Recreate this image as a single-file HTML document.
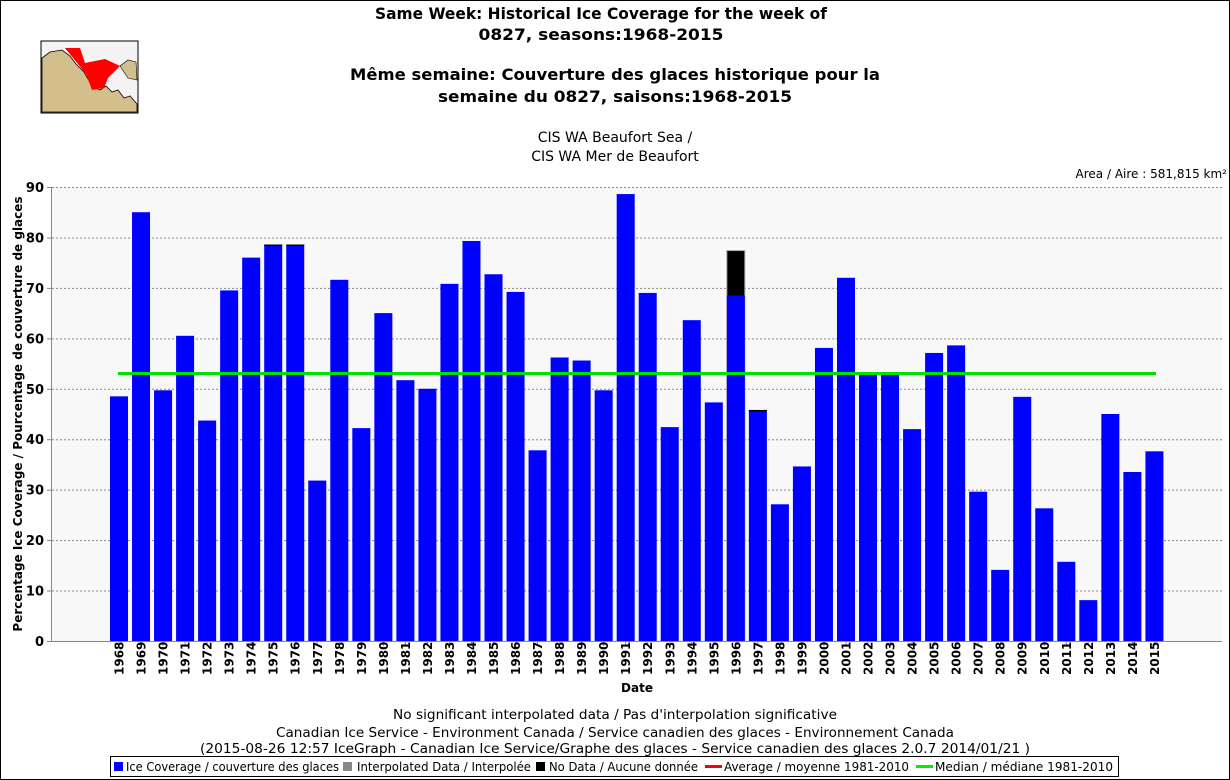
<!DOCTYPE html>
<html><head><meta charset="utf-8"><style>
html,body{margin:0;padding:0;background:#fff}
svg{display:block}
text{font-family:"DejaVu Sans","Liberation Sans",sans-serif}
</style></head><body>
<svg id="s" width="1230" height="780" xmlns="http://www.w3.org/2000/svg">
<rect x="0.5" y="0.5" width="1229" height="779" fill="#fff" stroke="#000"/>
<g font-weight="bold" font-size="16" text-anchor="middle" fill="#000">
<text x="601" y="19" textLength="452" lengthAdjust="spacingAndGlyphs">Same Week: Historical Ice Coverage for the week of</text>
<text x="601" y="40" textLength="245" lengthAdjust="spacingAndGlyphs">0827, seasons:1968-2015</text>
<text x="615" y="80" textLength="530" lengthAdjust="spacingAndGlyphs">Même semaine: Couverture des glaces historique pour la</text>
<text x="615" y="102" textLength="354" lengthAdjust="spacingAndGlyphs">semaine du 0827, saisons:1968-2015</text>
</g>
<g font-size="14" text-anchor="middle" fill="#000">
<text x="615" y="142">CIS WA Beaufort Sea /</text>
<text x="615" y="161">CIS WA Mer de Beaufort</text>
</g>
<text x="1227" y="178" font-size="12" text-anchor="end">Area / Aire : 581,815 km²</text>
<g>
<rect x="41" y="41" width="97" height="72" fill="#f5f3f3" stroke="#000"/>
<path d="M42,58 L50,52 L62,50 L70,56 L76,64 L84,72 L92,86 L100,90 L106,86 L112,92 L118,90 L124,98 L130,96 L137,104 L137,112 L42,112 Z" fill="#d4be8b" stroke="#000" stroke-width="0.8"/>
<path d="M65,48 L80,48 L85,63 L105,59 L120,66 L108,78 L104,88 L92,90 L86,74 Z" fill="#f00"/>
<path d="M120,66 L128,60 L136,62 L137,80 L128,78 Z" fill="#d4be8b" stroke="#000" stroke-width="0.6"/>
</g>
<rect x="52" y="187" width="1170" height="454" fill="#f8f8f8"/>
<g id="grid" stroke="#888" stroke-dasharray="2,2" stroke-width="1"></g>
<g id="bars"></g>
<line x1="118" y1="373.5" x2="1156" y2="373.5" stroke="#00e000" stroke-width="3"/>
<line x1="51.5" y1="187" x2="51.5" y2="641" stroke="#888"/>
<line x1="51" y1="641.5" x2="1222" y2="641.5" stroke="#888"/>
<g id="yl" font-size="13" font-weight="bold" text-anchor="end"></g>
<g id="xl" font-size="12" font-weight="bold"></g>
<text transform="translate(22,414) rotate(-90)" font-size="12" font-weight="bold" text-anchor="middle">Percentage Ice Coverage / Pourcentage de couverture de glaces</text>
<text x="637" y="692" font-size="12" font-weight="bold" text-anchor="middle">Date</text>
<g font-size="13" text-anchor="middle">
<text x="615" y="719" textLength="444" lengthAdjust="spacingAndGlyphs">No significant interpolated data / Pas d'interpolation significative</text>
<text x="615" y="737" textLength="678" lengthAdjust="spacingAndGlyphs">Canadian Ice Service - Environment Canada / Service canadien des glaces - Environnement Canada</text>
<text x="615" y="753" textLength="830" lengthAdjust="spacingAndGlyphs">(2015-08-26 12:57 IceGraph - Canadian Ice Service/Graphe des glaces - Service canadien des glaces 2.0.7 2014/01/21 )</text>
</g>
<rect x="110.5" y="756.5" width="1008" height="20" fill="#fff" stroke="#000"/>
<g font-size="12" fill="#000">
<rect x="114" y="762" width="9" height="9" fill="#00f"/><text x="126" y="771" textLength="213" lengthAdjust="spacingAndGlyphs">Ice Coverage / couverture des glaces</text>
<rect x="343" y="762" width="9" height="9" fill="#888"/><text x="357" y="771" textLength="174" lengthAdjust="spacingAndGlyphs">Interpolated Data / Interpolée</text>
<rect x="536" y="762" width="9" height="9" fill="#000"/><text x="549" y="771" textLength="149" lengthAdjust="spacingAndGlyphs">No Data / Aucune donnée</text>
<line x1="705" y1="766.5" x2="722" y2="766.5" stroke="#f00" stroke-width="3"/><text x="724" y="771" textLength="185" lengthAdjust="spacingAndGlyphs">Average / moyenne 1981-2010</text>
<line x1="916" y1="766.5" x2="933" y2="766.5" stroke="#0e0" stroke-width="3"/><text x="935" y="771" textLength="178" lengthAdjust="spacingAndGlyphs">Median / médiane 1981-2010</text>
</g>
</svg>
<script>
var v=[48.5,85,49.7,60.5,43.7,69.5,76,78.6,78.6,31.8,71.6,42.2,65,51.7,50,70.8,79.3,72.7,69.2,37.8,56.2,55.6,49.7,88.6,69,42.4,63.6,47.3,68.5,45.8,27.1,34.6,58.1,72,52.9,53.3,42,57.1,58.6,29.6,14.1,48.4,26.3,15.7,8.1,45,33.5,37.6];
var ns="http://www.w3.org/2000/svg";
function el(p,t,a,txt){var e=document.createElementNS(ns,t);for(var k in a)e.setAttribute(k,a[k]);if(txt!=null)e.textContent=txt;document.getElementById(p).appendChild(e);return e;}
function Y(x){return 641-x*454/90;}
for(var i=0;i<=9;i++){var y=Y(i*10);if(i>0)el("grid","line",{x1:52,x2:1222,y1:y+0.5,y2:y+0.5});el("grid","line",{x1:47,x2:52,y1:y+0.5,y2:y+0.5,"stroke-dasharray":"none"});el("yl","text",{x:44,y:y+5},String(i*10));}
for(var i=0;i<v.length;i++){var x=110+22.03*i;
if(i==28){el("bars","rect",{x:x,y:Y(77.4),width:18,height:641-Y(77.4),fill:"#000",stroke:"#aaa","stroke-width":1});}
el("bars","rect",{x:x,y:Y(v[i]),width:18,height:641-Y(v[i]),fill:"#00f"});
if(i==7||i==8||i==29||i==35){el("bars","rect",{x:x,y:Y(v[i]),width:18,height:1.5,fill:"#000"});}
var cx=x+9;el("xl","text",{transform:"translate("+(cx+4.5)+",675) rotate(-90)"},String(1968+i));
el("grid","line",{x1:cx,x2:cx,y1:641,y2:646,"stroke-dasharray":"none"});}
</script>
</body></html>
